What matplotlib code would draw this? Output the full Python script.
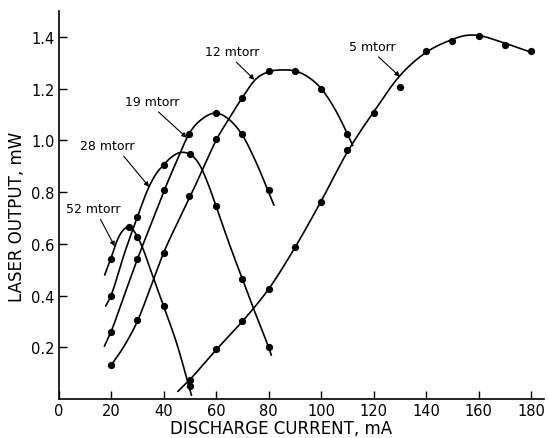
import numpy as np
import matplotlib
matplotlib.use("Agg")
import matplotlib.pyplot as plt

# Pontos medidos (corrente em mA, potencia em mW)
x_52 = [20, 27, 30, 40, 50]
y_52 = [0.54, 0.665, 0.625, 0.36, 0.05]
x_28 = [20, 30, 40, 50, 60, 70, 80]
y_28 = [0.40, 0.703, 0.905, 0.948, 0.745, 0.464, 0.20]
x_19 = [20, 30, 40, 49.5, 60, 70, 80]
y_19 = [0.26, 0.54, 0.806, 1.025, 1.106, 1.025, 0.806]
x_12 = [20, 30, 40, 49.5, 60, 70, 80, 90, 100, 110]
y_12 = [0.13, 0.305, 0.565, 0.784, 1.005, 1.163, 1.266, 1.266, 1.20, 1.025]
x_5 = [50, 60, 70, 80, 90, 100, 110, 120, 130, 140, 150, 160, 170, 180]
y_5 = [0.073, 0.193, 0.30, 0.425, 0.587, 0.763, 0.964, 1.106, 1.206,
       1.345, 1.385, 1.405, 1.367, 1.345]

# Curvas desenhadas a mao
cx_52 = [17.6, 20, 22, 24, 26.5, 28, 30, 32, 35, 40, 45, 50.6]
cy_52 = [0.48, 0.545, 0.605, 0.645, 0.665, 0.658, 0.628, 0.585, 0.50,
         0.36, 0.215, 0.015]
cx_28 = [18, 20, 25, 30, 34, 37, 40, 43, 46, 48.5, 51, 54, 57, 60, 65, 70, 75, 80, 81]
cy_28 = [0.36, 0.40, 0.56, 0.703, 0.81, 0.868, 0.905, 0.935, 0.952, 0.952, 0.94,
         0.90, 0.83, 0.745, 0.60, 0.464, 0.33, 0.20, 0.17]
cx_19 = [17.5, 20, 25, 30, 35, 40, 45, 50, 55, 60, 65, 70, 75, 80, 82]
cy_19 = [0.205, 0.26, 0.40, 0.54, 0.67, 0.80, 0.92, 1.03, 1.085, 1.105, 1.08,
         1.02, 0.92, 0.80, 0.75]
cx_12 = [20, 25, 30, 35, 40, 45, 50, 55, 60, 65, 70, 75, 80, 85, 90, 95, 100,
         105, 110, 112]
cy_12 = [0.13, 0.205, 0.30, 0.43, 0.565, 0.675, 0.78, 0.89, 1.00, 1.085, 1.165,
         1.235, 1.265, 1.272, 1.268, 1.245, 1.20, 1.125, 1.025, 0.98]
cx_5 = [45.5, 50, 60, 70, 80, 90, 100, 110, 120, 130, 140, 150, 155, 160, 170, 180]
cy_5 = [0.03, 0.075, 0.19, 0.30, 0.425, 0.585, 0.765, 0.955, 1.11, 1.25, 1.34,
        1.39, 1.405, 1.405, 1.375, 1.34]

# Rotulos de pressao: texto, posicao do texto, ponta da seta, relpos
rotulos = ["52 mtorr", "28 mtorr", "19 mtorr", "12 mtorr", "5 mtorr"]
pos_texto = [(13.1, 0.735), (18.4, 0.979), (35.5, 1.149), (66.2, 1.342), (119.4, 1.362)]
pos_seta = [(21.4, 0.59), (34.5, 0.82), (48.8, 1.01), (74.6, 1.234), (130.0, 1.246)]
rel_seta = [(0.6, 0), (0.75, 0), (0.55, 0), (0.5, 0), (0.55, 0)]

x_ticks = [0, 20, 40, 60, 80, 100, 120, 140, 160, 180]
y_ticks = [0.2, 0.4, 0.6, 0.8, 1.0, 1.2, 1.4]


# Curva suave (Hermite cubica em x) passando pelos pontos lidos
def suavizar(xs, ys, n=30):
    x = np.asarray(xs, float)
    y = np.asarray(ys, float)
    d = np.diff(y) / np.diff(x)
    m = np.empty_like(y)
    m[0], m[-1] = d[0], d[-1]
    m[1:-1] = (d[:-1] + d[1:]) / 2
    sx, sy = [], []
    t = np.linspace(0, 1, n, endpoint=False)
    for i in range(len(x) - 1):
        h = x[i + 1] - x[i]
        h00 = 2 * t**3 - 3 * t**2 + 1
        h10 = t**3 - 2 * t**2 + t
        h01 = -2 * t**3 + 3 * t**2
        h11 = t**3 - t**2
        sx.append(x[i] + t * h)
        sy.append(h00 * y[i] + h10 * h * m[i] + h01 * y[i + 1] + h11 * h * m[i + 1])
    sx.append([x[-1]])
    sy.append([y[-1]])
    return np.concatenate(sx), np.concatenate(sy)


plt.rcParams['font.family'] = ['DejaVu Sans']

fig = plt.figure(figsize=(5.49, 4.39), dpi=100)
ax = fig.add_axes([0.1066, 0.0888, 0.885, 0.884])

curvas = [(cx_52, cy_52), (cx_28, cy_28), (cx_19, cy_19), (cx_12, cy_12), (cx_5, cy_5)]
pontos = [(x_52, y_52), (x_28, y_28), (x_19, y_19), (x_12, y_12), (x_5, y_5)]

for (cx, cy), (px, py) in zip(curvas, pontos):
    sx, sy = suavizar(cx, cy)
    ax.plot(sx, sy, color='black', lw=1.2)
    ax.plot(px, py, 'o', color='black', ms=4.2)

for txt, xyt, xy, rp in zip(rotulos, pos_texto, pos_seta, rel_seta):
    ax.annotate(txt, xy=xy, xytext=xyt, ha='center', va='center', fontsize=9,
                arrowprops=dict(arrowstyle='-|>', color='black', lw=0.8,
                                mutation_scale=7, relpos=rp, shrinkA=1, shrinkB=0))

ax.set_xlim(0, 185)
ax.set_ylim(0, 1.5)
ax.set_xticks(x_ticks)
ax.set_yticks(y_ticks)
ax.set_yticklabels([f"{v:.1f}" for v in y_ticks])
ax.tick_params(direction='in', length=6, width=1, labelsize=10.5, pad=3)
ax.spines['top'].set_visible(False)
ax.spines['right'].set_visible(False)
ax.spines['left'].set_linewidth(1.2)
ax.spines['bottom'].set_linewidth(1.2)

ax.set_xlabel('DISCHARGE CURRENT, mA', fontsize=12)
ax.xaxis.set_label_coords(0.457, -0.052)
ax.set_ylabel('LASER OUTPUT, mW', fontsize=12)
ax.yaxis.set_label_coords(-0.066, 0.472)

fig.savefig('out.png', dpi=100)
